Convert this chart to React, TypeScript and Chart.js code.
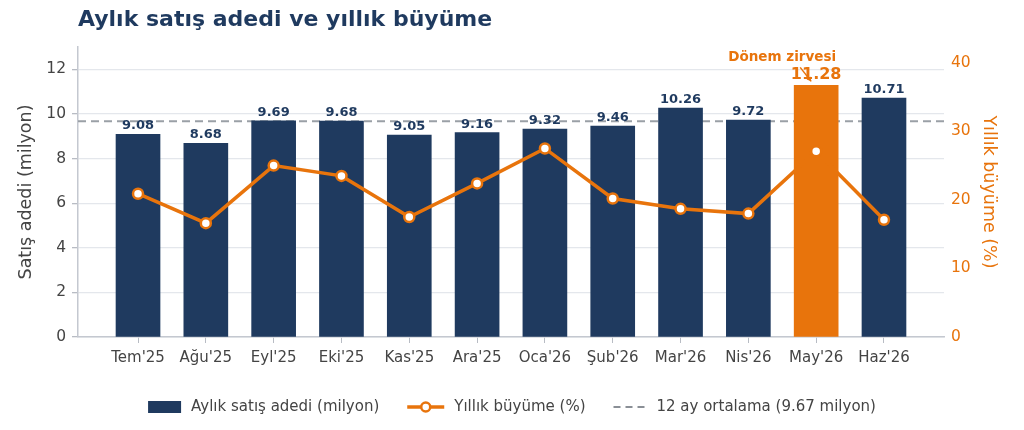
import { useEffect, useRef } from "react";
import { Chart, registerables } from "chart.js";

Chart.register(...registerables);

const months = ["Tem'25", "Ağu'25", "Eyl'25", "Eki'25", "Kas'25", "Ara'25", "Oca'26", "Şub'26", "Mar'26", "Nis'26", "May'26", "Haz'26"];
const sales = [9.08, 8.68, 9.69, 9.68, 9.05, 9.16, 9.32, 9.46, 10.26, 9.72, 11.28, 10.71];
const growth = [20.9, 16.6, 25.0, 23.5, 17.5, 22.4, 27.5, 20.2, 18.7, 18.0, 27.1, 17.1];
const average = 9.67;
const peakIndex = 10;
const legendLabels = ["Aylık satış adedi (milyon)", "Yıllık büyüme (%)", "12 ay ortalama (9.67 milyon)"];

const NAVY = "#1f3a5f";
const ORANGE = "#e8740c";
const GRAY = "#444444";
const FONT = "'DejaVu Sans', sans-serif";
const X_PAD = 0.885;

export default function App() {
  const ref = useRef<HTMLCanvasElement | null>(null);
  const chartRef = useRef<Chart | null>(null);

  useEffect(() => {
    document.body.style.margin = "0";
    if (!ref.current) return;
    const ctx = ref.current.getContext("2d");
    if (!ctx) return;

    // labels above the bars, peak note, title and legend
    const decorations = {
      id: "decorations",
      afterDatasetsDraw(chart: any) {
        const c = chart.ctx;
        const bars = chart.getDatasetMeta(1).data;
        c.save();
        c.textAlign = "center";
        c.textBaseline = "bottom";
        bars.forEach((bar: any, i: number) => {
          if (i === peakIndex) {
            c.fillStyle = ORANGE;
            c.font = `bold 16px ${FONT}`;
            c.fillText(sales[i].toFixed(2), bar.x, bar.y - 3);
            c.font = `bold 13.5px ${FONT}`;
            c.fillText("Dönem zirvesi", bar.x - 34, bar.y - 21);
            // small arrow
            const x0 = bar.x - 16, y0 = bar.y - 18, x1 = bar.x - 5, y1 = bar.y - 4;
            c.strokeStyle = ORANGE;
            c.lineWidth = 1.5;
            c.beginPath();
            c.moveTo(x0, y0);
            c.lineTo(x1, y1);
            c.stroke();
            const a = Math.atan2(y1 - y0, x1 - x0);
            c.beginPath();
            c.moveTo(x1, y1);
            c.lineTo(x1 - 5 * Math.cos(a - 0.5), y1 - 5 * Math.sin(a - 0.5));
            c.lineTo(x1 - 5 * Math.cos(a + 0.5), y1 - 5 * Math.sin(a + 0.5));
            c.closePath();
            c.fillStyle = ORANGE;
            c.fill();
          } else {
            c.fillStyle = NAVY;
            c.font = `bold 13px ${FONT}`;
            c.fillText(sales[i].toFixed(2), bar.x, bar.y - 2);
          }
        });

        // title
        c.textAlign = "left";
        c.textBaseline = "middle";
        c.fillStyle = NAVY;
        c.font = `bold 22px ${FONT}`;
        c.fillText("Aylık satış adedi ve yıllık büyüme", chart.chartArea.left, 20);

        // legend
        c.font = `15px ${FONT}`;
        const symW = [33, 37, 33];
        const widths = legendLabels.map((t, i) => symW[i] + 10 + c.measureText(t).width);
        const total = widths.reduce((s, w) => s + w, 0) + 28 * 2;
        let x = (chart.width - total) / 2;
        const y = 407;
        legendLabels.forEach((t, i) => {
          if (i === 0) {
            c.fillStyle = NAVY;
            c.fillRect(x, y - 6, 33, 12);
          } else if (i === 1) {
            c.strokeStyle = ORANGE;
            c.lineWidth = 3.5;
            c.beginPath();
            c.moveTo(x, y);
            c.lineTo(x + 37, y);
            c.stroke();
            c.beginPath();
            c.arc(x + 18.5, y, 4.5, 0, Math.PI * 2);
            c.fillStyle = "#ffffff";
            c.fill();
            c.lineWidth = 2.5;
            c.stroke();
          } else {
            c.strokeStyle = "#8a8f96";
            c.lineWidth = 2;
            c.setLineDash([7, 5]);
            c.beginPath();
            c.moveTo(x, y);
            c.lineTo(x + 33, y);
            c.stroke();
            c.setLineDash([]);
          }
          c.fillStyle = GRAY;
          c.fillText(t, x + symW[i] + 10, y);
          x += widths[i] + 28;
        });
        c.restore();
      },
    };

    chartRef.current = new Chart(ctx, {
      type: "bar",
      data: {
        datasets: [
          {
            type: "line",
            label: "Yıllık büyüme (%)",
            data: months.map((_, i) => ({ x: i, y: growth[i] })),
            yAxisID: "y1",
            borderColor: ORANGE,
            borderWidth: 3.5,
            pointRadius: 5,
            pointBorderWidth: 2.5,
            pointBackgroundColor: "#ffffff",
            pointBorderColor: ORANGE,
            order: 0,
          },
          {
            type: "bar",
            label: "Aylık satış adedi (milyon)",
            data: months.map((_, i) => ({ x: i, y: sales[i] })),
            yAxisID: "y",
            backgroundColor: months.map((_, i) => (i === peakIndex ? ORANGE : NAVY)),
            barThickness: 44,
            order: 1,
          },
          {
            type: "line",
            label: "12 ay ortalama",
            data: [
              { x: -X_PAD, y: average },
              { x: months.length - 1 + X_PAD, y: average },
            ],
            yAxisID: "y",
            borderColor: "#9aa0a6",
            borderWidth: 2,
            borderDash: [8, 5],
            pointRadius: 0,
            order: 2,
          },
        ],
      },
      options: {
        animation: false,
        responsive: false,
        layout: { padding: { top: 47, bottom: 0, left: 0, right: 0 } },
        plugins: {
          legend: { display: false },
          tooltip: { enabled: false },
        },
        scales: {
          x: {
            type: "linear",
            offset: false,
            min: -X_PAD,
            max: months.length - 1 + X_PAD,
            afterBuildTicks: (scale: any) => {
              scale.ticks = months.map((_, i) => ({ value: i }));
            },
            afterFit: (scale: any) => {
              scale.height = 93;
            },
            ticks: {
              callback: (v: any) => months[v] ?? "",
              color: GRAY,
              font: { family: FONT, size: 15 },
              padding: 6,
              maxRotation: 0,
              autoSkip: false,
            },
            grid: { drawOnChartArea: false, offset: false, tickLength: 6, tickColor: "#b8bcc4" },
            border: { color: "#c4c8d0", width: 1.5 },
          },
          y: {
            position: "left",
            min: 0,
            max: 13,
            afterFit: (scale: any) => {
              scale.width = 78;
            },
            ticks: {
              stepSize: 2,
              includeBounds: false,
              color: GRAY,
              font: { family: FONT, size: 15.5 },
              padding: 6,
            },
            grid: { color: "#e4e7ec", lineWidth: 1.3, tickLength: 6, tickColor: "#b8bcc4" },
            border: { color: "#c4c8d0", width: 1.5 },
            title: {
              display: true,
              text: "Satış adedi (milyon)",
              color: GRAY,
              font: { family: FONT, size: 17.5 },
              padding: { top: 16, bottom: 0 },
            },
          },
          y1: {
            position: "right",
            min: 0,
            max: 42.3,
            afterFit: (scale: any) => {
              scale.width = 80;
            },
            ticks: {
              stepSize: 10,
              includeBounds: false,
              color: ORANGE,
              font: { family: FONT, size: 15.5 },
              padding: 7,
            },
            grid: { drawOnChartArea: false, drawTicks: false },
            border: { display: false },
            title: {
              display: true,
              text: "Yıllık büyüme (%)",
              color: ORANGE,
              font: { family: FONT, size: 17.5 },
              padding: { top: 25, bottom: 0 },
            },
          },
        },
      },
      plugins: [decorations],
    } as any);

    return () => {
      if (chartRef.current) {
        chartRef.current.destroy();
        chartRef.current = null;
      }
    };
  }, []);

  return (
    <div style={{ width: 1024, height: 430, background: "#ffffff" }}>
      <canvas ref={ref} width={1024} height={430} aria-label="Aylık satış adedi ve yıllık büyüme grafiği" />
    </div>
  );
}
